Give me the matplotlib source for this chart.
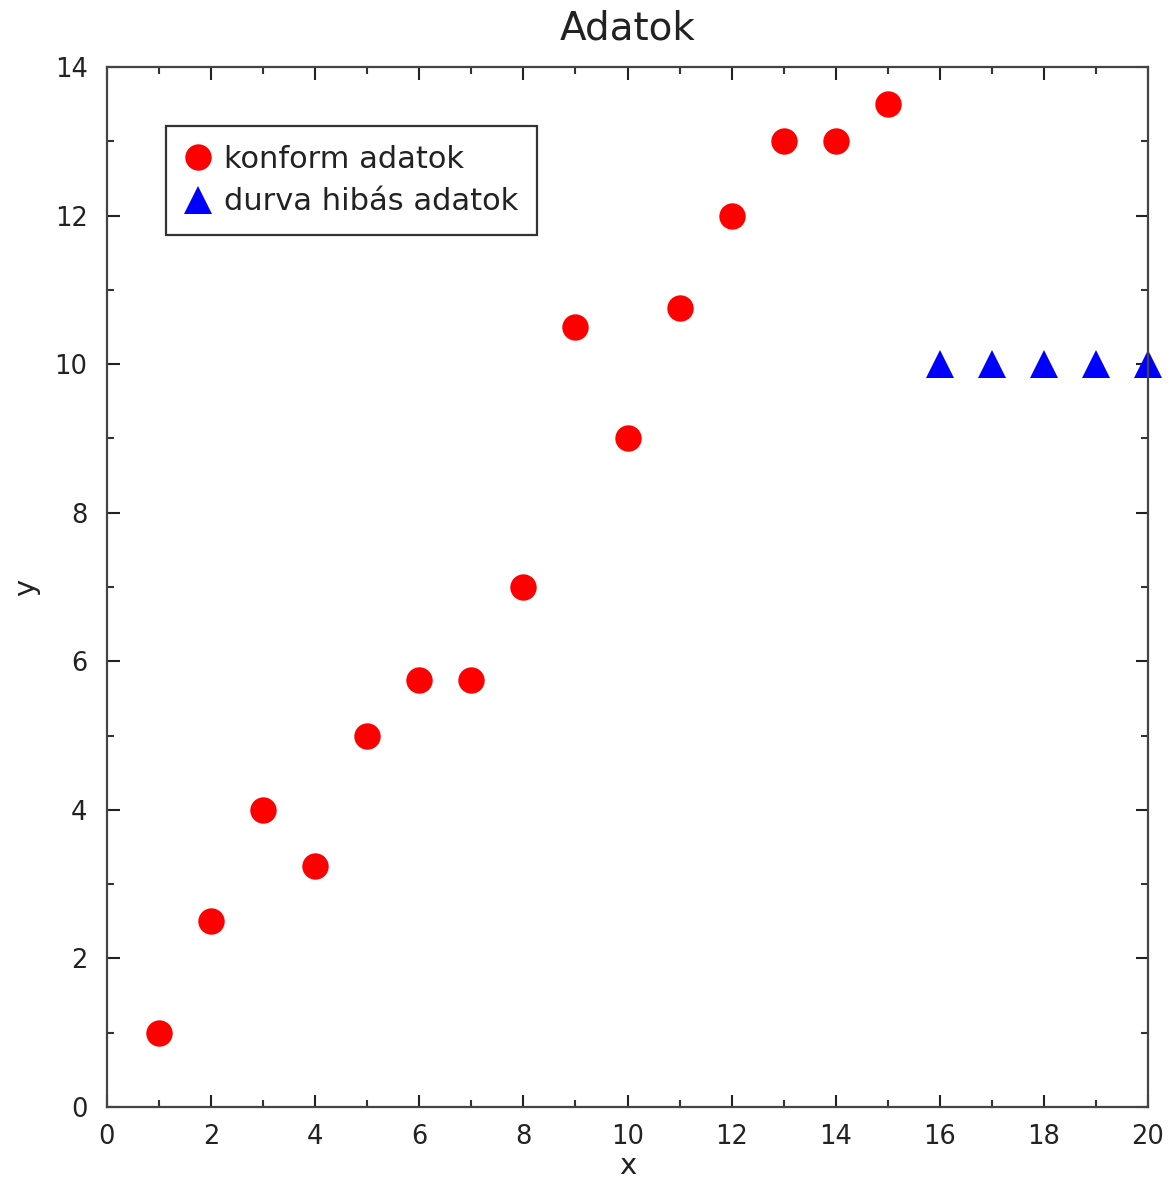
import matplotlib
matplotlib.use("Agg")
import matplotlib.pyplot as plt
from matplotlib.ticker import MultipleLocator

conform_x = [1, 2, 3, 4, 5, 6, 7, 8, 9, 10, 11, 12, 13, 14, 15]
conform_y = [1, 2.5, 4, 3.25, 5, 5.75, 5.75, 7, 10.5, 9, 10.75, 12, 13, 13, 13.5]
outlier_x = [16, 17, 18, 19, 20]
outlier_y = [10, 10, 10, 10, 10]

plt.rcParams['font.family'] = ['DejaVu Sans']

fig = plt.figure(figsize=(11.7, 11.84), dpi=100)
ax = fig.add_axes([107/1170, 77/1184, 1041/1170, 1040/1184])

ax.plot(conform_x, conform_y, 'o', color='red', markersize=19, markeredgewidth=0,
        clip_on=False, label='konform adatok')
ax.plot(outlier_x, outlier_y, '^', color='blue', markersize=20, markeredgewidth=0,
        clip_on=False, label='durva hibás adatok')

ax.set_xlim(0, 20)
ax.set_ylim(0, 14)
ax.xaxis.set_major_locator(MultipleLocator(2))
ax.xaxis.set_minor_locator(MultipleLocator(1))
ax.yaxis.set_major_locator(MultipleLocator(2))
ax.yaxis.set_minor_locator(MultipleLocator(1))
ax.tick_params(which='both', direction='in', top=True, right=True, color='#333333', width=1.5)
ax.tick_params(which='major', length=9, labelsize=18.5, colors='#222222')
ax.tick_params(axis='x', which='major', pad=12)
ax.tick_params(axis='y', which='major', pad=14)
ax.tick_params(which='minor', length=5)
for s in ax.spines.values():
    s.set_linewidth(1.6)
    s.set_color('#444444')

ax.set_title('Adatok', fontsize=28, pad=20, color='#222222')
ax.set_xlabel('x', fontsize=21, labelpad=2, color='#222222')
ax.set_ylabel('y', fontsize=21, labelpad=10, color='#222222')

leg = ax.legend(loc='upper left', bbox_to_anchor=(0.0567, 0.943), fontsize=22,
                frameon=True, fancybox=False, edgecolor='#333333', handletextpad=0.4,
                handlelength=0.9, borderpad=0.6, borderaxespad=0, labelspacing=0.45,
                markerscale=1.0, framealpha=1)
leg.get_frame().set_linewidth(1.6)
for t in leg.get_texts():
    t.set_color('#222222')

fig.savefig('out.png', dpi=100)
